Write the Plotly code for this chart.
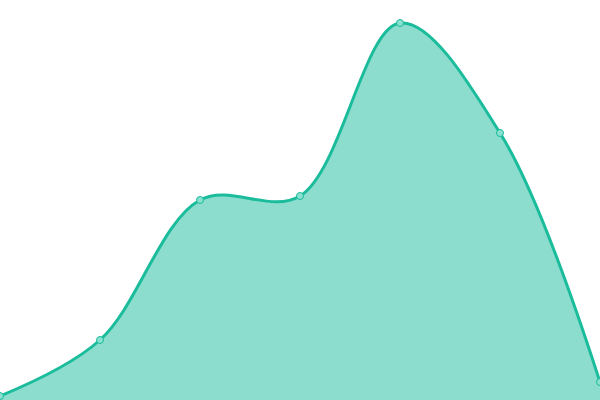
""" smoothed area chart
"""
import plotly.graph_objs as go

# data
x_values = [0, 100, 200, 300, 400, 500, 600]
y_values = [4, 60, 200, 204, 377, 267, 18]


def main():
    """ main-function
    """
    trace = go.Scatter(x=x_values, y=y_values,
                       mode='lines+markers',
                       line=dict(color='#1abc9c', width=3, shape='spline', smoothing=1),
                       marker=dict(size=7, color='#8ae0cf',
                                   line=dict(color='#1abc9c', width=1)),
                       fill='tozeroy',
                       fillcolor='rgba(26, 188, 156, 0.5)',
                       cliponaxis=False,
                       hoverinfo='none')

    layout = go.Layout(width=600, height=400,
                       margin=dict(l=0, r=0, t=0, b=0),
                       paper_bgcolor='white',
                       plot_bgcolor='white',
                       showlegend=False,
                       xaxis=dict(range=[0, 600], visible=False, fixedrange=True),
                       yaxis=dict(range=[0, 400], visible=False, fixedrange=True))

    fig = go.Figure(data=[trace], layout=layout)
    # drop the default page margin so the plot sits at the top-left corner
    fig.write_html("out.html", config=dict(displayModeBar=False),
                   post_script="document.body.style.margin='0';"
                               "document.body.style.overflow='hidden';")


if __name__ == "__main__":
    main()
